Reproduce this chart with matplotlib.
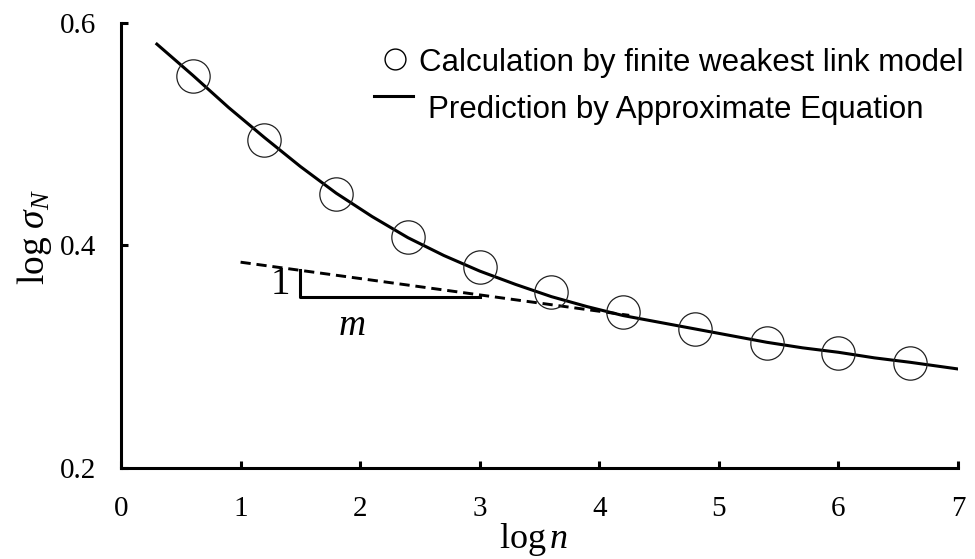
"""
Strength vs. number of links: weakest-link calculation and approximate equation.
"""
import matplotlib
matplotlib.use("Agg")
import matplotlib.pyplot as plt

plt.rcParams["font.family"] = "Liberation Serif"
plt.rcParams["mathtext.fontset"] = "custom"
plt.rcParams["mathtext.rm"] = "Liberation Serif"
plt.rcParams["mathtext.it"] = "Liberation Serif:italic"

# finite weakest link model (circles)
calc_log_n = [0.6, 1.2, 1.8, 2.4, 3.0, 3.6, 4.2, 4.8, 5.4, 6.0, 6.6]
calc_log_sigma = [0.552, 0.495, 0.446, 0.408, 0.381, 0.358, 0.340, 0.325, 0.312, 0.303, 0.294]

# approximate equation (solid curve)
pred_log_n = [0.3, 0.6, 0.9, 1.2, 1.5, 1.8, 2.1, 2.4, 2.7, 3.0, 3.3, 3.6, 3.9,
              4.2, 4.5, 4.8, 5.1, 5.4, 5.7, 6.0, 6.3, 6.6, 7.0]
pred_log_sigma = [0.581, 0.553, 0.524, 0.497, 0.471, 0.447, 0.426, 0.407, 0.391,
                  0.377, 0.365, 0.354, 0.345, 0.337, 0.331, 0.325, 0.319, 0.313,
                  0.308, 0.304, 0.299, 0.295, 0.289]

# asymptote (dashed) and slope marker
asym_log_n = [1.0, 4.25]
asym_log_sigma = [0.385, 0.3372]
slope_x = [1.5, 1.5, 3.0]
slope_y = [0.378, 0.354, 0.354]

x_ticks = [0, 1, 2, 3, 4, 5, 6, 7]
y_ticks = [0.2, 0.4, 0.6]

fig = plt.figure(figsize=(9.75, 5.59), dpi=100)
ax = fig.add_axes([0.1241, 0.1628, 0.8585, 0.7961])

ax.plot(pred_log_n, pred_log_sigma, color="black", lw=2.2, zorder=3)
ax.plot(calc_log_n, calc_log_sigma, linestyle="none", marker="o", ms=24,
        mfc="none", mec="#222222", mew=0.9, zorder=4)
ax.plot(asym_log_n, asym_log_sigma, color="black", lw=2.1,
        dashes=(3.5, 2.0), zorder=2)
ax.plot(slope_x, slope_y, color="black", lw=2.2, zorder=2)
ax.text(1.33, 0.3645, "1", fontsize=28, ha="center", va="center")
ax.text(1.93, 0.328, "$m$", fontsize=27, ha="center", va="center")

# legend drawn by hand
ax.plot([2.292], [0.5676], linestyle="none", marker="o", ms=15, mfc="none",
        mec="black", mew=1.0, clip_on=False)
ax.plot([2.116, 2.442], [0.5345, 0.5345], color="black", lw=2.2, clip_on=False)
sans = dict(family="Liberation Sans", fontsize=22.5, va="baseline", ha="left")
ax.text(2.492, 0.5569, "Calculation by finite weakest link model", **sans)
ax.text(2.568, 0.5150, "Prediction by Approximate Equation", **sans)

ax.set_xlim(0, 7)
ax.set_ylim(0.2, 0.6)
ax.set_xticks(x_ticks)
ax.set_yticks(y_ticks)
ax.set_yticklabels([f"{v:.1f}" for v in y_ticks])
ax.tick_params(direction="in", length=5, width=2.2, labelsize=21)
ax.tick_params(axis="x", pad=20)
ax.tick_params(axis="y", pad=18)
for side in ("top", "right"):
    ax.spines[side].set_visible(False)
for side in ("left", "bottom"):
    ax.spines[side].set_linewidth(2.2)

ax.set_xlabel(r"$\mathrm{log}\,n$", fontsize=26, labelpad=0)
ax.set_ylabel(r"$\mathrm{log}\ \sigma_N$", fontsize=27)
ax.xaxis.set_label_coords(0.493, -0.118)
ax.yaxis.set_label_coords(-0.08, 0.52)

fig.savefig("out.png", dpi=100)
